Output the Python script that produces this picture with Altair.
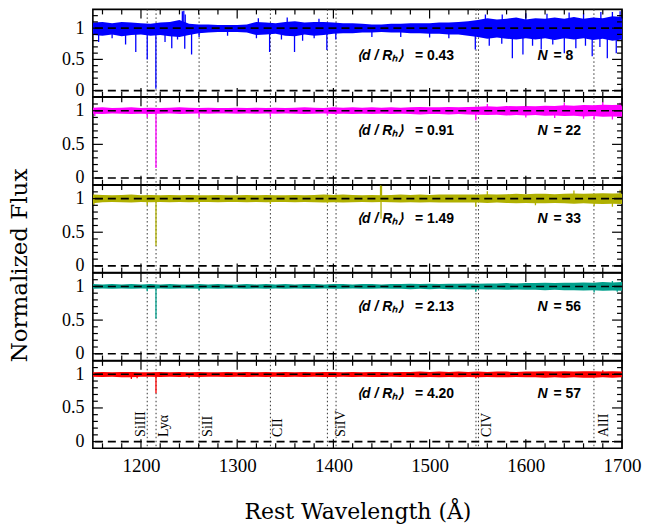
import altair as alt
import pandas as pd

# ---------------- data ----------------
WL = list(range(1150, 1701, 10))  # 10 A bins, 1150..1700

HI1 = [1.09,1.10,1.08,1.10,1.09,1.08,1.07,1.09,1.10,1.13,1.07,1.06,1.06,1.05,1.05,1.05,1.06,1.10,1.09,1.08,
       1.10,1.11,1.09,1.10,1.10,1.09,1.08,1.08,1.07,1.06,1.06,1.07,1.07,1.08,1.08,1.08,1.09,1.09,1.10,1.11,
       1.13,1.16,1.14,1.15,1.17,1.14,1.16,1.15,1.17,1.15,1.18,1.15,1.17,1.16,1.19,1.18]
LO1 = [0.89,0.88,0.90,0.87,0.89,0.90,0.88,0.89,0.87,0.86,0.89,0.92,0.93,0.94,0.94,0.94,0.93,0.89,0.90,0.91,
       0.88,0.87,0.90,0.88,0.89,0.91,0.92,0.92,0.93,0.93,0.94,0.93,0.93,0.92,0.92,0.91,0.91,0.90,0.90,0.88,
       0.86,0.83,0.85,0.83,0.82,0.84,0.82,0.84,0.81,0.84,0.82,0.84,0.81,0.83,0.80,0.82]
SPK1_WL = [1156,1170,1184,1194.6,1206.5,1215.5,1225,1232,1238,1245.5,1252.6,1260.4,1290,1320,1333.7,1346,
           1359.6,1368,1380,1393.2,1402.5,1440,1470,1500,1520,1547.5,1562,1575,1586,1597,1607,1616,1628,
           1640,1652,1662,1669,1677,1684.7,1694,
           1243,1244.5,1246,1322,1352,1385,1558,1575.5,1600,1622,1645,1660,1678,1690,1698]
SPK1_V = [0.78,0.84,0.74,0.62,0.50,0.03,0.78,0.68,0.82,0.67,0.58,0.86,0.88,0.84,0.62,0.82,
          0.62,0.80,0.84,0.65,0.82,0.86,0.86,0.85,0.84,0.66,0.72,0.75,0.52,0.58,0.72,0.66,0.74,
          0.60,0.68,0.72,0.55,0.70,0.52,0.60,
          1.27,1.28,1.22,1.16,1.17,1.15,1.22,1.22,1.24,1.23,1.25,1.24,1.26,1.26,1.27]

HI2 = [1.045,1.05,1.04,1.045,1.05,1.04,1.045,1.04,1.045,1.05,
       1.045,1.04,1.045,1.04,1.04,1.045,1.04,1.045,1.04,1.045,
       1.04,1.045,1.05,1.045,1.04,1.05,1.045,1.05,1.045,1.05,
       1.045,1.05,1.045,1.05,1.055,1.05,1.05,1.055,1.05,1.055,
       1.06,1.065,1.06,1.07,1.065,1.07,1.065,1.075,1.07,1.08,
       1.075,1.085,1.08,1.09,1.085,1.09]
LO2 = [0.955,0.95,0.96,0.955,0.95,0.955,0.95,0.955,0.96,0.95,
       0.955,0.96,0.955,0.96,0.96,0.955,0.96,0.955,0.96,0.955,
       0.96,0.955,0.95,0.955,0.96,0.95,0.955,0.95,0.955,0.95,
       0.955,0.95,0.955,0.95,0.945,0.95,0.95,0.945,0.95,0.945,
       0.94,0.935,0.94,0.93,0.935,0.93,0.935,0.925,0.93,0.92,
       0.925,0.915,0.92,0.91,0.915,0.91]
SPK2_WL = [1152,1206.5,1215.6,1260.4,1334.5,1393.8,1402.8,1548,1600,1630,1660,1671,1690,1560,1640,1680,1698]
SPK2_V = [0.92,0.90,0.15,0.90,0.91,0.93,0.94,0.86,0.90,0.89,0.88,0.87,0.87,1.10,1.12,1.13,1.12]

HI3 = [1.06,1.055,1.05,1.055,1.06,1.05,1.055,1.05,1.055,1.05,
       1.055,1.05,1.05,1.055,1.05,1.05,1.055,1.05,1.055,1.05,
       1.05,1.055,1.05,1.055,1.06,1.055,1.06,1.055,1.05,1.055,
       1.05,1.055,1.06,1.055,1.06,1.055,1.06,1.06,1.06,1.06,
       1.06,1.065,1.06,1.065,1.07,1.065,1.07,1.07,1.065,1.07,
       1.075,1.07,1.075,1.08,1.075,1.08]
LO3 = [0.93,0.945,0.95,0.945,0.94,0.95,0.945,0.95,0.945,0.95,
       0.945,0.95,0.95,0.945,0.95,0.95,0.945,0.95,0.945,0.95,
       0.95,0.945,0.95,0.945,0.94,0.945,0.94,0.945,0.95,0.945,
       0.95,0.945,0.94,0.945,0.94,0.945,0.94,0.94,0.94,0.94,
       0.94,0.935,0.94,0.935,0.93,0.935,0.93,0.93,0.935,0.93,
       0.925,0.93,0.925,0.92,0.925,0.92]
SPK3_WL = [1151,1206.5,1215.6,1260.4,1334.5,1393.8,1449.5,1548,1610,1671,1690,1449,1450,1560,1650,1698]
SPK3_V = [0.90,0.90,0.30,0.92,0.92,0.93,0.70,0.88,0.90,0.89,0.88,1.20,1.19,1.11,1.12,1.13]

HI4 = [1.035,1.03,1.035,1.03,1.035,1.03,1.035,1.03,1.035,1.03,
       1.03,1.035,1.03,1.035,1.03,1.03,1.035,1.03,1.035,1.03,
       1.035,1.03,1.035,1.035,1.03,1.035,1.035,1.03,1.035,1.035,
       1.03,1.035,1.035,1.04,1.035,1.04,1.035,1.04,1.04,1.045,
       1.04,1.045,1.045,1.05,1.045,1.05,1.05,1.055,1.05,1.055,
       1.055,1.06,1.055,1.065,1.06,1.065]
LO4 = [0.965,0.97,0.965,0.97,0.965,0.97,0.965,0.97,0.965,0.97,
       0.97,0.965,0.97,0.965,0.97,0.97,0.965,0.97,0.965,0.97,
       0.965,0.97,0.965,0.965,0.97,0.965,0.965,0.97,0.965,0.965,
       0.97,0.965,0.965,0.96,0.965,0.96,0.965,0.96,0.96,0.955,
       0.96,0.955,0.955,0.95,0.955,0.95,0.95,0.945,0.95,0.945,
       0.945,0.94,0.945,0.935,0.94,0.935]
SPK4_WL = [1206.5,1215.6,1260.4,1548,1671,1695,1690,1700]
SPK4_V = [0.93,0.52,0.94,0.92,0.91,0.92,1.08,1.08]

HI5 = [1.03,1.035,1.03,1.035,1.035,1.03,1.03,1.035,1.03,1.035,
       1.03,1.035,1.03,1.03,1.035,1.03,1.035,1.03,1.035,1.03,
       1.035,1.03,1.035,1.03,1.035,1.035,1.03,1.035,1.03,1.035,
       1.035,1.03,1.035,1.035,1.04,1.035,1.04,1.035,1.04,1.035,
       1.04,1.035,1.04,1.04,1.035,1.04,1.04,1.045,1.04,1.045,
       1.04,1.045,1.045,1.04,1.045,1.04]
LO5 = [0.965,0.96,0.965,0.955,0.955,0.965,0.965,0.96,0.965,0.96,
       0.965,0.96,0.965,0.965,0.96,0.965,0.96,0.965,0.96,0.965,
       0.96,0.965,0.96,0.965,0.96,0.96,0.965,0.96,0.965,0.96,
       0.96,0.965,0.96,0.96,0.955,0.96,0.955,0.96,0.955,0.96,
       0.955,0.96,0.955,0.955,0.96,0.955,0.955,0.95,0.955,0.95,
       0.955,0.95,0.95,0.955,0.95,0.955]
SPK5_WL = [1190,1196,1215.6,1250,1548,1680]
SPK5_V = [0.93,0.94,0.72,0.95,0.94,1.06]

COLORS = ["#0000ff", "#ff00ff", "#b0b000", "#00a08c", "#ff0000"]
D_VALUES = ["0.43", "0.91", "1.49", "2.13", "4.20"]
N_VALUES = ["8", "22", "33", "56", "57"]
Y_TOP = [1.3, 1.2, 1.2, 1.2, 1.2]
LABEL_Y = [0.56, 0.70, 0.70, 0.70, 0.70]
ANN_WL = [1424.6, 1484.7, 1612.2, 1628.8]

ION_WL = [1206.5, 1215.67, 1260.42, 1334.53, 1393.76, 1402.77, 1548.20, 1550.78, 1670.79]
ION_NAMES = ["SiIII", "Lyα", "SiII", "CII", "SiIV", "CIV", "AlII"]
ION_LABEL_WL = [1199.7, 1223.6, 1269.2, 1342.7, 1408.0, 1559.3, 1681.6]
ION_LABEL_Y = 0.07

XT_MAJ = [1200, 1300, 1400, 1500, 1600, 1700]
XT_MIN = [1160, 1180, 1220, 1240, 1260, 1280, 1320, 1340, 1360, 1380, 1420, 1440,
          1460, 1480, 1520, 1540, 1560, 1580, 1620, 1640, 1660, 1680]
YT_MAJ = [0, 0.5, 1]
YT_MIN = [0.1, 0.2, 0.3, 0.4, 0.6, 0.7, 0.8, 0.9, 1.1, 1.2]

HIS = [HI1, HI2, HI3, HI4, HI5]
LOS = [LO1, LO2, LO3, LO4, LO5]
SPK_WL = [SPK1_WL, SPK2_WL, SPK3_WL, SPK4_WL, SPK5_WL]
SPK_V = [SPK1_V, SPK2_V, SPK3_V, SPK4_V, SPK5_V]

# ---------------- styling ----------------
W = 530
PANEL_H = 87.6
SERIF = "Liberation Serif"
SANS = "Liberation Sans"
XS = alt.Scale(domain=[1150, 1700], nice=False, zero=False)


def panel(k):
    H = PANEL_H
    ys = alt.Scale(domain=[-0.1, Y_TOP[k]], nice=False, zero=False)
    last = k == 4
    if last:
        xaxis = alt.Axis(values=XT_MAJ, format="d", title="Rest Wavelength (Å)", ticks=False,
                         domain=False, grid=False, labelFont=SERIF, labelFontSize=19,
                         labelPadding=8, labelColor="black", labelFlush=False,
                         titleFont="DejaVu Serif", titleFontSize=22, titleFontWeight="normal",
                         titleColor="black", titlePadding=26)
    else:
        xaxis = None
    yaxis = alt.Axis(values=YT_MAJ, labelExpr="datum.value == 0.5 ? '0.5' : format(datum.value, 'd')",
                     ticks=False, domain=False, grid=False, title=None, labelFont=SERIF,
                     labelFontSize=18, labelPadding=9, labelColor="black")

    def X(f):
        return alt.X(f, type="quantitative", scale=XS, axis=xaxis)

    def Y(f):
        return alt.Y(f, type="quantitative", scale=ys, axis=yaxis)

    col = COLORS[k]
    spec = pd.DataFrame({"wl": WL, "lo": LOS[k], "hi": HIS[k]})
    spk = pd.DataFrame({"wl": SPK_WL[k], "v": SPK_V[k]})
    ions = pd.DataFrame({"wl": ION_WL})

    layers = []
    layers.append(alt.Chart(ions).mark_rule(color="#333333", strokeWidth=1, strokeDash=[1.5, 2.5])
                  .encode(x=X("wl")))
    layers.append(alt.Chart(spec).mark_area(color=col, opacity=1, clip=True)
                  .encode(x=X("wl"), y=Y("lo"), y2="hi"))
    layers.append(alt.Chart(spk).mark_rule(color=col, strokeWidth=1.3, clip=True)
                  .encode(x=X("wl"), y=Y("v"), y2=alt.datum(1)))
    layers.append(alt.Chart(pd.DataFrame({"v": [0, 1]}))
                  .mark_rule(color="black", strokeWidth=1.6, strokeDash=[8, 5])
                  .encode(y=Y("v")))
    # inward ticks
    xmaj = pd.DataFrame({"t": XT_MAJ})
    xmin = pd.DataFrame({"t": XT_MIN})
    ymaj = pd.DataFrame({"t": YT_MAJ})
    ymin = pd.DataFrame({"t": [t for t in YT_MIN if t < Y_TOP[k]]})
    tk = dict(color="black", strokeWidth=1.2)
    layers += [
        alt.Chart(xmaj).mark_rule(**tk).encode(x=X("t"), y=alt.value(0), y2=alt.value(9)),
        alt.Chart(xmaj).mark_rule(**tk).encode(x=X("t"), y=alt.value(H), y2=alt.value(H - 9)),
        alt.Chart(xmin).mark_rule(**tk).encode(x=X("t"), y=alt.value(0), y2=alt.value(5)),
        alt.Chart(xmin).mark_rule(**tk).encode(x=X("t"), y=alt.value(H), y2=alt.value(H - 5)),
        alt.Chart(ymaj).mark_rule(**tk).encode(y=Y("t"), x=alt.value(0), x2=alt.value(10)),
        alt.Chart(ymaj).mark_rule(**tk).encode(y=Y("t"), x=alt.value(W), x2=alt.value(W - 10)),
        alt.Chart(ymin).mark_rule(**tk).encode(y=Y("t"), x=alt.value(0), x2=alt.value(5)),
        alt.Chart(ymin).mark_rule(**tk).encode(y=Y("t"), x=alt.value(W), x2=alt.value(W - 5)),
    ]
    # annotations
    ital = pd.DataFrame({"wl": [ANN_WL[0], ANN_WL[2]], "v": [LABEL_Y[k]] * 2,
                         "txt": ["⟨d / Rₕ⟩", "N"]})
    upr = pd.DataFrame({"wl": [ANN_WL[1], ANN_WL[3]], "v": [LABEL_Y[k]] * 2,
                        "txt": ["= " + D_VALUES[k], "= " + N_VALUES[k]]})
    layers.append(alt.Chart(ital).mark_text(align="left", baseline="middle", font=SANS, fontSize=14,
                                            fontWeight="bold", fontStyle="italic", color="black")
                  .encode(x=X("wl"), y=Y("v"), text="txt:N"))
    layers.append(alt.Chart(upr).mark_text(align="left", baseline="middle", font=SANS, fontSize=14,
                                           fontWeight="bold", color="black")
                  .encode(x=X("wl"), y=Y("v"), text="txt:N"))
    if last:
        lab = pd.DataFrame({"wl": ION_LABEL_WL, "v": [ION_LABEL_Y] * len(ION_NAMES), "txt": ION_NAMES})
        layers.append(alt.Chart(lab).mark_text(align="left", baseline="middle", angle=270, font=SERIF,
                                               fontSize=14, color="black")
                      .encode(x=X("wl"), y=Y("v"), text="txt:N"))
    return alt.layer(*layers).properties(width=W, height=H)


chart = alt.vconcat(*[panel(k) for k in range(5)], spacing=0, bounds="flush").properties(
    title=alt.TitleParams("Normalized Flux", orient="left", anchor="middle", font="DejaVu Serif",
                          fontSize=23, fontWeight="normal", color="black", offset=29),
    padding={"left": 0, "top": -1, "right": 0, "bottom": 0},
    background="white",
).configure_view(stroke="black", strokeWidth=1.6).configure_concat(spacing=0)

chart.save("out.html", embed_options={"renderer": "svg", "actions": False})
